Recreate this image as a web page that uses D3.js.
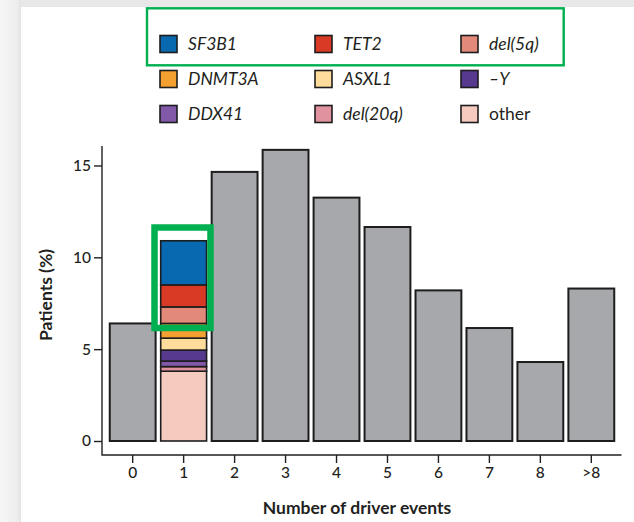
<!DOCTYPE html>
<html>
<head>
<meta charset="utf-8">
<script src="https://cdn.jsdelivr.net/npm/d3@7/dist/d3.min.js"></script>
<style>
  html, body { margin: 0; padding: 0; background: #ffffff; }
  svg { display: block; }
  text { font-family: Lato, "Open Sans", sans-serif; fill: #231f20; }
</style>
</head>
<body>
<svg id="chart" width="634" height="522"></svg>
<script>
// Number of driver events per patient (x categories)
const categories = ["0", "1", "2", "3", "4", "5", "6", "7", "8", ">8"];
// Share of patients (%) in each category; the "1" bar is split by driver below
const patientsPct = [6.4, null, 14.65, 15.85, 13.25, 11.65, 8.2, 6.15, 4.3, 8.3];

// Drivers for patients with exactly one event, stacked top to bottom
const driverNames = ["SF3B1", "TET2", "del(5q)", "DNMT3A", "ASXL1", "\u2013Y", "DDX41", "del(20q)", "other"];
const driverPct   = [2.4, 1.2, 0.9, 0.8, 0.65, 0.6, 0.3, 0.25, 3.8];
const driverColors = ["#0868b0", "#d93a26", "#e3897a", "#f4a031", "#fedc9c", "#573a8f", "#8159a8", "#e0929f", "#f5cbc0"];
const driverItalic = [true, true, true, true, true, true, true, true, false];

const yTicks = [0, 5, 10, 15];

const svg = d3.select("#chart");
const W = 634, H = 522;

// page frame
svg.append("rect").attr("width", W).attr("height", H).attr("fill", "#ffffff");
const defs = svg.append("defs");
const lg = defs.append("linearGradient").attr("id", "leftEdge").attr("x1", 0).attr("x2", 1);
lg.append("stop").attr("offset", "0%").attr("stop-color", "#f6f6f6");
lg.append("stop").attr("offset", "80%").attr("stop-color", "#eeeeee");
lg.append("stop").attr("offset", "100%").attr("stop-color", "#e3e3e3");
svg.append("rect").attr("x", 0).attr("y", 0).attr("width", W).attr("height", 7).attr("fill", "#e8e8e8");
svg.append("rect").attr("x", 0).attr("y", 0).attr("width", 21).attr("height", H).attr("fill", "url(#leftEdge)");

// scales
const x = d3.scaleBand()
  .domain(categories)
  .range([107.2, 616.8])
  .paddingInner(0.1)
  .paddingOuter(0.05);

const y = d3.scaleLinear().domain([0, 16]).range([441, 147.1]);

const axisY0 = 455;   // baseline of the L-shaped frame
const axisX0 = 102;

// gray bars
const barData = categories.map((c, i) => ({ c, v: patientsPct[i] })).filter(d => d.v != null);
svg.append("g").selectAll("rect").data(barData).join("rect")
  .attr("x", d => x(d.c))
  .attr("width", x.bandwidth())
  .attr("y", d => y(d.v))
  .attr("height", d => y(0) - y(d.v))
  .attr("fill", "#a6a8ab")
  .attr("stroke", "#1d1d1d")
  .attr("stroke-width", 2);

// stacked bar for one driver event
const stackRows = [];
let acc = 0;
for (let i = driverPct.length - 1; i >= 0; i--) {
  stackRows.push({ name: driverNames[i], y0: acc, y1: acc + driverPct[i], color: driverColors[i] });
  acc += driverPct[i];
}
svg.append("g").selectAll("rect").data(stackRows).join("rect")
  .attr("x", x("1"))
  .attr("width", x.bandwidth())
  .attr("y", d => y(d.y1))
  .attr("height", d => y(d.y0) - y(d.y1))
  .attr("fill", d => d.color)
  .attr("stroke", "#1d1d1d")
  .attr("stroke-width", 1.6);

// frame lines
svg.append("path")
  .attr("d", `M${axisX0},${y(16) - 1}V${axisY0}H${621.5}`)
  .attr("fill", "none")
  .attr("stroke", "#231f20")
  .attr("stroke-width", 1.4);

// y axis
const yAxis = svg.append("g")
  .attr("transform", `translate(${axisX0},0)`)
  .call(d3.axisLeft(y).tickValues(yTicks).tickSize(8).tickPadding(3).tickSizeOuter(0));
yAxis.select(".domain").remove();
yAxis.selectAll("line").attr("stroke", "#231f20").attr("stroke-width", 1.4);
yAxis.selectAll("text").style("font-size", "15.5px").style("font-weight", "500").attr("fill", "#231f20");

// x axis
const xAxis = svg.append("g")
  .attr("transform", `translate(0,${axisY0})`)
  .call(d3.axisBottom(x).tickSize(8).tickPadding(4).tickSizeOuter(0));
xAxis.select(".domain").remove();
xAxis.selectAll("line").attr("stroke", "#231f20").attr("stroke-width", 1.4);
xAxis.selectAll("text").style("font-size", "15.5px").style("font-weight", "500").attr("fill", "#231f20");

// axis titles
svg.append("text")
  .attr("transform", "translate(52,295) rotate(-90)")
  .attr("text-anchor", "middle")
  .style("font-size", "17.5px")
  .style("font-weight", "700")
  .text("Patients (%)");

svg.append("text")
  .attr("x", 357)
  .attr("y", 514)
  .attr("text-anchor", "middle")
  .style("font-size", "17.5px")
  .style("font-weight", "700")
  .text("Number of driver events");

// legend: 3 columns x 3 rows
const legCols = [160, 315, 461];
const legRows = [44, 79, 114];
const leg = svg.append("g");
driverNames.forEach((name, i) => {
  const cx = legCols[i % 3], cy = legRows[Math.floor(i / 3)];
  leg.append("rect")
    .attr("x", cx).attr("y", cy - 8.5)
    .attr("width", 17).attr("height", 17)
    .attr("fill", driverColors[i])
    .attr("stroke", "#1d1d1d")
    .attr("stroke-width", 1.6);
  leg.append("text")
    .attr("x", cx + 28)
    .attr("y", cy + 6)
    .style("font-size", "17.5px")
    .style("font-style", driverItalic[i] ? "italic" : "normal")
    .text(name);
});

// highlight boxes
svg.append("rect")
  .attr("x", 147).attr("y", 8.3)
  .attr("width", 416.7).attr("height", 57)
  .attr("fill", "none")
  .attr("stroke", "#00b050")
  .attr("stroke-width", 2.4);

svg.append("rect")
  .attr("x", 154.5).attr("y", 227.5)
  .attr("width", 56).attr("height", 100.5)
  .attr("fill", "none")
  .attr("stroke", "#00b050")
  .attr("stroke-width", 6.5);
</script>
</body>
</html>
